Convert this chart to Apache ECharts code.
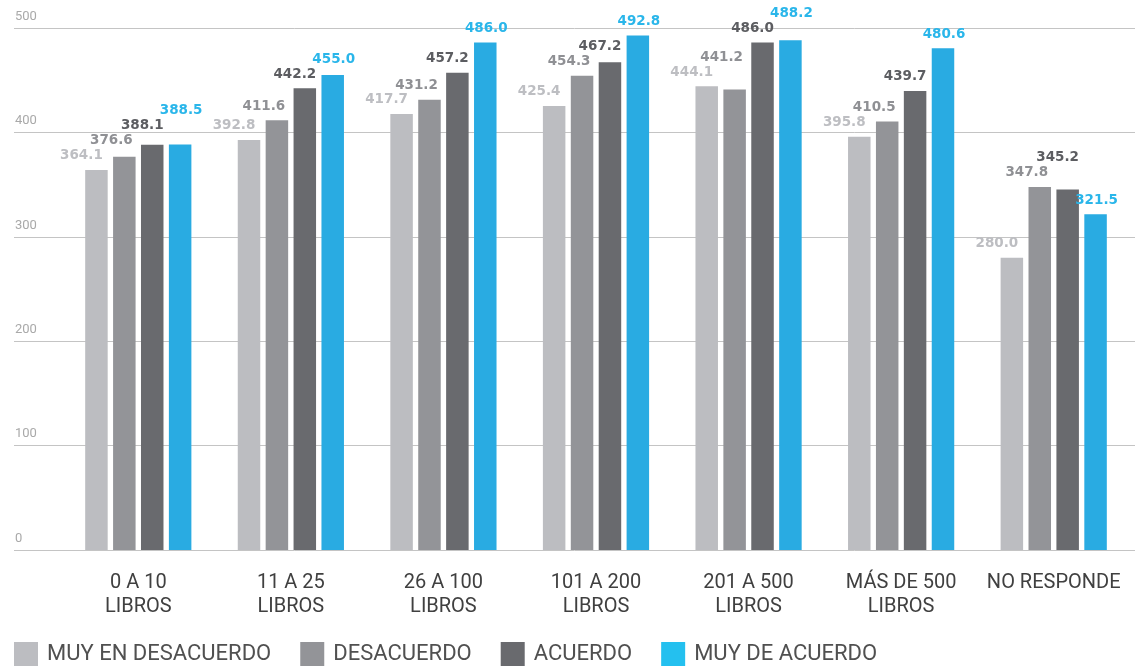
<!DOCTYPE html>
<html>
<head>
<meta charset="utf-8">
<script src="https://cdn.jsdelivr.net/npm/echarts@6/dist/echarts.min.js"></script>
<style>
  html, body { margin: 0; padding: 0; background: #ffffff; }
  #chart { width: 1135px; height: 666px; }
</style>
</head>
<body>
<div id="chart"></div>
<script>
// Book-count groups on the category axis
const categories = ['0 A 10\nLIBROS', '11 A 25\nLIBROS', '26 A 100\nLIBROS', '101 A 200\nLIBROS',
                    '201 A 500\nLIBROS', 'MÁS DE 500\nLIBROS', 'NO RESPONDE'];

// Average score per answer level
const muyEnDesacuerdo = [364.1, 392.8, 417.7, 425.4, 444.1, 395.8, 280.0];
const desacuerdo      = [376.6, 411.6, 431.2, 454.3, 441.2, 410.5, 347.8];
const acuerdo         = [388.1, 442.2, 457.2, 467.2, 486.0, 439.7, 345.2];
const muyDeAcuerdo    = [388.5, 455.0, 486.0, 492.8, 488.2, 480.6, 321.5];

const seriesNames = ['MUY EN DESACUERDO', 'DESACUERDO', 'ACUERDO', 'MUY DE ACUERDO'];

// Value axis settings
const yMin = 0, yMax = 500, yStep = 100;

const barColors    = ['#bcbdc1', '#939498', '#696a6e', '#29abe2'];
const labelColors  = ['#bdbec2', '#8f9094', '#5c5d61', '#2ab6ea'];
const legendColors = ['#bcbdc1', '#939498', '#696a6e', '#24c0ef'];
const labelShift   = [-15, -13, -10, 1];   // horizontal nudge of value labels, px
const labelGap     = 7;                    // px between bar top and label box

const seriesValues = [muyEnDesacuerdo, desacuerdo, acuerdo, muyDeAcuerdo];

// Value labels: sit above each bar; when one collides with a label already
// placed in the same group, it is lifted above it.
const placedLabels = {};
function layoutValueLabel(params) {
  const s = params.seriesIndex, d = params.dataIndex;
  const r = params.rect;
  const barTop = Math.min(r.y, r.y + r.height);
  const w = params.labelRect.width, h = params.labelRect.height;
  const cx = r.x + r.width / 2 + labelShift[s];
  let bottom = barTop - labelGap;
  const others = [];
  for (let k = 0; k < s; k++) {
    const p = placedLabels[k + '-' + d];
    if (p) others.push(p);
  }
  for (let iter = 0; iter < 6; iter++) {
    let moved = false;
    for (const p of others) {
      const hOverlap = Math.abs(cx - p.cx) < (w + p.w) / 2;
      const vOverlap = bottom > p.top && bottom - h < p.bottom;
      if (hOverlap && vOverlap) { bottom = p.top - 1; moved = true; }
    }
    if (!moved) break;
  }
  placedLabels[s + '-' + d] = { cx, w, top: bottom - h, bottom };
  return { x: cx, y: bottom, align: 'center', verticalAlign: 'bottom' };
}

const chart = echarts.init(document.getElementById('chart'), null, { renderer: 'canvas' });

const option = {
  animation: false,
  backgroundColor: '#ffffff',
  grid: [
    // full-width grid carrying the horizontal guide lines and tick labels
    { left: 14, right: 0, top: 28, bottom: 116, containLabel: false },
    // grid holding the bars
    { left: 62, right: 5, top: 28, bottom: 116, containLabel: false }
  ],
  xAxis: [
    { gridIndex: 0, type: 'value', show: false, min: 0, max: 1 },
    {
      gridIndex: 1,
      type: 'category',
      data: categories,
      axisLine: { show: false },
      axisTick: { show: false },
      axisLabel: {
        margin: 21,
        fontFamily: 'Roboto',
        fontSize: 20,
        lineHeight: 24,
        color: '#404040',
        interval: 0
      }
    }
  ],
  yAxis: [
    {
      gridIndex: 0,
      type: 'value',
      min: yMin,
      max: yMax,
      interval: yStep,
      axisLine: { show: false },
      axisTick: { show: false },
      splitLine: { show: true, lineStyle: { color: '#c4c4c4', width: 1 } },
      axisLabel: {
        inside: true,
        align: 'left',
        verticalAlign: 'bottom',
        margin: 1,
        padding: [0, 0, 5, 0],
        fontFamily: 'Roboto',
        fontSize: 13,
        color: '#a9a9a9'
      }
    },
    {
      gridIndex: 1,
      type: 'value',
      min: yMin,
      max: yMax,
      interval: yStep,
      show: false,
      splitLine: { show: false }
    }
  ],
  legend: {
    left: 9,
    top: 637,
    itemWidth: 24,
    itemHeight: 24,
    itemGap: 29,
    icon: 'rect',
    textStyle: {
      fontFamily: 'Roboto',
      fontSize: 22,
      color: '#505050',
      padding: [0, 0, 0, 4]
    },
    data: seriesNames.map((n, i) => ({ name: n, itemStyle: { color: legendColors[i] } }))
  },
  series: seriesValues.map((vals, i) => ({
    name: seriesNames[i],
    type: 'bar',
    xAxisIndex: 1,
    yAxisIndex: 1,
    data: vals,
    barWidth: 22.5,
    barGap: '24%',
    itemStyle: { color: barColors[i] },
    label: {
      show: true,
      position: 'top',
      fontFamily: 'DejaVu Sans',
      fontWeight: 'bold',
      fontSize: 13.5,
      color: labelColors[i],
      formatter: p => p.value.toFixed(1)
    },
    labelLayout: layoutValueLabel
  }))
};

chart.setOption(option);
</script>
</body>
</html>
